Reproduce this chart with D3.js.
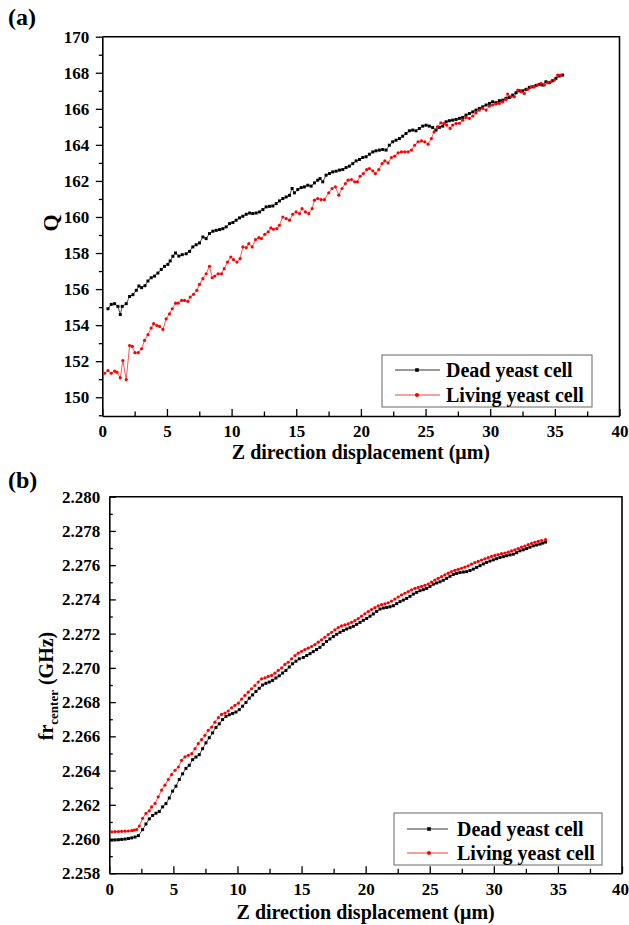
<!DOCTYPE html>
<html><head><meta charset="utf-8">
<script src="https://cdn.jsdelivr.net/npm/d3@7"></script>
<style>
html,body{margin:0;padding:0;background:#fff;}
svg{display:block;}
text{font-family:"Liberation Serif","Times New Roman",serif;font-weight:bold;fill:#000;}
</style></head>
<body><svg id="chart" width="629" height="925"></svg>
<script>
// ---------- data ----------
const seriesNames = ["Dead yeast cell", "Living yeast cell"];
const xTicks = [0,5,10,15,20,25,30,35,40];
const qTicks = [150,152,154,156,158,160,162,164,166,168,170];
const frTicks = [2.258,2.260,2.262,2.264,2.266,2.268,2.270,2.272,2.274,2.276,2.278,2.280];

// Panel (a): Q
const deadQx = [0.44,0.69,0.95,1.21,1.39,1.54,1.85,2.11,2.37,2.63,
 2.83,3.04,3.3,3.53,3.78,4.04,4.3,4.56,4.81,5.07,
 5.25,5.46,5.66,5.92,6.18,6.49,6.75,7.0,7.26,7.52,
 7.78,8.03,8.29,8.55,8.81,9.07,9.32,9.58,9.84,10.1,
 10.35,10.61,10.87,11.13,11.39,11.64,11.9,12.16,12.42,12.67,
 12.93,13.19,13.45,13.7,13.96,14.22,14.48,14.68,14.86,15.12,
 15.38,15.63,15.89,16.15,16.41,16.66,16.84,17.05,17.31,17.57,
 17.82,18.08,18.34,18.6,18.85,19.11,19.37,19.63,19.89,20.14,
 20.4,20.66,20.92,21.17,21.43,21.69,21.95,22.2,22.46,22.72,
 22.98,23.23,23.49,23.75,24.01,24.26,24.52,24.78,25.04,25.29,
 25.55,25.81,26.07,26.33,26.59,26.84,27.1,27.36,27.62,27.87,
 28.13,28.39,28.65,28.9,29.16,29.42,29.68,29.94,30.19,30.45,
 30.71,30.97,31.22,31.48,31.74,32.0,32.25,32.51,32.77,33.03,
 33.28,33.54,33.8,34.06,34.31,34.57,34.83,35.08,35.34,35.6];
const deadQ = [154.91,155.15,155.19,155.04,154.59,155.04,155.19,155.59,155.69,155.93,
 156.17,156.08,156.19,156.45,156.63,156.72,156.89,157.09,157.26,157.37,
 157.56,157.82,158.0,157.83,157.91,157.96,158.09,158.34,158.46,158.56,
 158.89,158.8,159.08,159.21,159.26,159.3,159.35,159.45,159.63,159.69,
 159.82,159.95,160.04,160.15,160.22,160.19,160.22,160.28,160.41,160.56,
 160.59,160.61,160.74,160.89,161.02,161.11,161.2,161.58,161.34,161.52,
 161.63,161.67,161.76,161.71,161.89,162.04,162.13,161.95,162.32,162.41,
 162.5,162.54,162.6,162.63,162.74,162.82,162.96,163.11,163.19,163.3,
 163.34,163.48,163.61,163.67,163.71,163.74,163.71,163.98,164.17,164.26,
 164.35,164.48,164.63,164.78,164.82,164.78,164.91,165.04,165.09,165.04,
 164.96,164.82,164.97,165.04,165.28,165.34,165.37,165.41,165.47,165.52,
 165.65,165.74,165.83,165.93,166.02,166.11,166.21,166.3,166.39,166.34,
 166.45,166.48,166.58,166.63,166.76,166.89,167.0,167.0,167.08,167.19,
 167.22,167.3,167.35,167.32,167.5,167.45,167.56,167.69,167.82,167.87];

const livingQx = [0.18,0.44,0.69,0.95,1.13,1.39,1.59,1.85,2.11,2.32,
 2.52,2.78,3.04,3.27,3.53,3.78,3.97,4.22,4.43,4.69,
 4.94,5.2,5.41,5.67,5.87,6.13,6.36,6.62,6.8,7.06,
 7.31,7.52,7.78,8.03,8.29,8.5,8.7,8.96,9.22,9.43,
 9.68,9.94,10.15,10.41,10.66,10.87,11.13,11.33,11.59,11.85,
 12.11,12.31,12.57,12.83,13.04,13.24,13.5,13.7,13.96,14.22,
 14.48,14.73,14.99,15.25,15.45,15.71,15.97,16.23,16.41,16.66,
 16.92,17.18,17.51,17.77,18.03,18.29,18.54,18.8,19.01,19.27,
 19.52,19.73,19.94,20.19,20.45,20.66,20.92,21.12,21.38,21.64,
 21.85,22.1,22.36,22.62,22.88,23.13,23.39,23.65,23.91,24.16,
 24.42,24.68,24.94,25.2,25.45,25.66,25.92,26.18,26.43,26.64,
 26.9,27.1,27.36,27.62,27.87,28.13,28.39,28.65,28.9,29.16,
 29.42,29.68,29.94,30.19,30.45,30.71,30.97,31.22,31.35,31.61,
 31.87,32.13,32.38,32.64,32.9,33.16,33.41,33.67,33.93,34.19,
 34.44,34.7,34.96,35.22,35.48];
const livingQ = [151.33,151.48,151.33,151.45,151.39,151.08,152.04,150.98,152.87,152.82,
 152.47,152.47,152.69,153.15,153.47,153.84,154.08,153.98,153.93,153.76,
 154.35,154.63,154.91,155.22,155.22,155.37,155.37,155.32,155.56,155.71,
 155.93,156.26,156.58,156.85,157.26,156.63,156.72,156.85,156.85,157.13,
 157.5,157.78,157.63,157.5,157.69,158.34,158.3,158.52,158.34,158.74,
 158.85,158.8,159.04,159.17,159.39,159.32,159.35,159.54,160.0,159.91,
 159.82,160.15,160.28,160.19,160.46,160.28,160.19,160.46,160.93,161.02,
 160.96,160.96,161.34,161.58,161.67,161.21,161.58,161.85,162.04,162.08,
 161.95,161.95,162.26,162.41,162.63,162.69,162.56,162.41,162.63,162.96,
 163.11,163.0,163.3,163.37,163.56,163.61,163.61,163.61,163.71,163.98,
 164.17,164.22,164.17,164.04,164.35,164.72,165.0,165.22,165.19,165.1,
 164.91,165.1,165.19,165.2,165.37,165.52,165.47,165.6,165.78,165.93,
 166.02,165.93,166.15,166.21,166.26,166.3,166.39,166.52,166.82,166.67,
 166.67,167.04,166.95,166.85,167.08,167.22,167.22,167.32,167.41,167.32,
 167.45,167.5,167.6,167.87,167.87];

// Panel (b): resonance centre frequency (GHz)
const deadFx = [0.19,0.45,0.71,0.97,1.23,1.49,1.75,2.01,2.27,2.6,
 2.86,3.12,3.38,3.64,3.9,4.16,4.42,4.68,4.94,5.2,
 5.46,5.72,5.98,6.24,6.5,6.76,7.02,7.28,7.54,7.8,
 8.06,8.32,8.58,8.84,9.1,9.36,9.62,9.88,10.14,10.4,
 10.66,10.92,11.18,11.44,11.7,11.96,12.22,12.48,12.74,13.0,
 13.26,13.52,13.78,14.04,14.3,14.56,14.82,15.14,15.4,15.66,
 15.91,16.17,16.43,16.69,16.95,17.21,17.48,17.74,18.0,18.26,
 18.52,18.78,19.04,19.3,19.56,19.82,20.08,20.34,20.6,20.86,
 21.12,21.38,21.64,21.9,22.16,22.42,22.68,22.94,23.2,23.46,
 23.72,23.98,24.24,24.5,24.76,25.02,25.28,25.54,25.8,26.06,
 26.32,26.58,26.84,27.1,27.36,27.62,27.88,28.14,28.4,28.66,
 28.92,29.18,29.44,29.7,29.96,30.22,30.48,30.74,31.0,31.26,
 31.52,31.78,32.04,32.3,32.56,32.82,33.08,33.34,33.6,33.82,34.04];
const deadF = [2.25994,2.25995,2.25996,2.25998,2.26,2.26003,2.26007,2.26012,2.2602,2.26055,
 2.26088,2.26118,2.26138,2.26151,2.26161,2.26188,2.26207,2.2624,2.2628,2.26309,
 2.26348,2.26381,2.26413,2.26431,2.26464,2.26479,2.26493,2.26528,2.26562,2.26592,
 2.2662,2.26652,2.26673,2.26698,2.26717,2.26726,2.26734,2.26742,2.26756,2.26776,
 2.26798,2.26823,2.26842,2.26862,2.26881,2.269,2.2691,2.26917,2.26927,2.26941,
 2.26954,2.2697,2.26985,2.27005,2.27024,2.27039,2.27053,2.27061,2.27072,2.27083,
 2.27095,2.27107,2.2712,2.27137,2.27154,2.27169,2.27183,2.27196,2.27208,2.27218,
 2.27227,2.27235,2.27243,2.27254,2.27266,2.27278,2.27289,2.27302,2.27315,2.2733,
 2.27344,2.2735,2.27353,2.27357,2.27363,2.27375,2.27387,2.27396,2.27406,2.27418,
 2.27431,2.27441,2.27451,2.27457,2.27464,2.27476,2.27489,2.27496,2.27503,2.27512,
 2.27523,2.27535,2.27546,2.27552,2.27557,2.2756,2.27562,2.27569,2.27577,2.27587,
 2.27597,2.27607,2.27616,2.27624,2.27631,2.27638,2.27645,2.2765,2.27655,2.2766,
 2.27664,2.27673,2.27684,2.2769,2.27697,2.27705,2.27713,2.27718,2.27723,2.27729,2.27735];

const livingFx = [0.19,0.45,0.71,0.97,1.23,1.49,1.75,1.95,2.14,2.34,
 2.6,2.86,3.12,3.3,3.57,3.82,4.08,4.34,4.6,4.86,
 5.13,5.39,5.64,5.9,6.16,6.43,6.69,6.94,7.2,7.46,
 7.72,7.98,8.24,8.51,8.76,9.03,9.28,9.54,9.8,10.07,
 10.32,10.58,10.84,11.1,11.36,11.62,11.88,12.15,12.4,12.66,
 12.92,13.18,13.45,13.7,13.96,14.22,14.49,14.74,15.0,15.26,
 15.52,15.78,16.04,16.3,16.56,16.82,17.08,17.34,17.6,17.86,
 18.12,18.38,18.64,18.9,19.16,19.42,19.68,19.94,20.2,20.46,
 20.72,20.98,21.24,21.5,21.76,22.02,22.28,22.54,22.8,23.06,
 23.32,23.58,23.84,24.1,24.36,24.62,24.88,25.14,25.4,25.66,
 25.92,26.18,26.44,26.7,26.96,27.22,27.48,27.74,28.0,28.26,
 28.52,28.78,29.04,29.3,29.56,29.82,30.08,30.34,30.6,30.86,
 31.12,31.38,31.64,31.9,32.16,32.42,32.68,32.94,33.2,33.46,33.72,34.04];
const livingF = [2.26042,2.26043,2.26044,2.26045,2.26046,2.26047,2.26049,2.26052,2.26056,2.26076,
 2.26121,2.2615,2.26165,2.26188,2.26208,2.26247,2.26286,2.26315,2.26348,2.26377,
 2.26402,2.26421,2.2646,2.2648,2.26489,2.26499,2.26528,2.26558,2.26581,2.26606,
 2.26635,2.26654,2.26683,2.26709,2.26728,2.26736,2.26748,2.26767,2.26781,2.26794,
 2.26818,2.26839,2.26858,2.26878,2.26897,2.26917,2.26936,2.26942,2.2695,2.26956,
 2.26969,2.26985,2.27,2.2702,2.27033,2.27053,2.27072,2.27086,2.27097,2.27107,
 2.27115,2.27125,2.27136,2.2715,2.27164,2.27179,2.27195,2.27208,2.27222,2.27236,
 2.27245,2.27251,2.27257,2.27266,2.27276,2.27288,2.27302,2.27316,2.27329,2.27341,
 2.27352,2.27362,2.27369,2.27374,2.2738,2.2739,2.27402,2.27414,2.27426,2.27436,
 2.27446,2.27456,2.27464,2.2747,2.27476,2.27482,2.2749,2.27501,2.27513,2.27523,
 2.27533,2.27543,2.27553,2.27563,2.2757,2.27576,2.27582,2.27589,2.27596,2.27606,
 2.27615,2.27622,2.2763,2.27637,2.27644,2.27651,2.27657,2.27662,2.27667,2.27671,
 2.27676,2.27683,2.2769,2.27697,2.27705,2.27712,2.2772,2.27727,2.27734,2.27739,2.27744,2.2775];

// ---------- drawing ----------
const svg = d3.select("#chart");
const zipXY = (xs, ys) => d3.range(Math.min(xs.length, ys.length)).map(i => [xs[i], ys[i]]);

function panel(cfg) {
  const x = d3.scaleLinear().domain([0, 40]).range([cfg.left, cfg.right]);
  const y = d3.scaleLinear().domain(cfg.yDomain).range([cfg.bottom, cfg.top]);
  const g = svg.append("g");

  // frame top & right
  g.append("path")
    .attr("d", `M${cfg.left},${cfg.top}H${cfg.right}V${cfg.bottom}`)
    .attr("fill", "none").attr("stroke", "#000").attr("stroke-width", 1.6);

  // minor ticks
  const minorX = d3.range(2.5, 40, 5);
  g.append("g").attr("transform", `translate(0,${cfg.bottom})`)
    .call(d3.axisBottom(x).tickValues(minorX).tickSize(-4.5).tickSizeOuter(0).tickFormat(""))
    .call(s => s.select(".domain").remove());
  g.append("g").attr("transform", `translate(${cfg.left},0)`)
    .call(d3.axisLeft(y).tickValues(cfg.minorY).tickSize(cfg.yOut ? 3.5 : -3.5).tickSizeOuter(0).tickFormat(""))
    .call(s => s.select(".domain").remove());

  // major axes
  const ax = g.append("g").attr("transform", `translate(0,${cfg.bottom})`)
    .call(d3.axisBottom(x).tickValues(xTicks).tickSize(-7).tickSizeOuter(0).tickPadding(cfg.xPad).tickFormat(d3.format("d")));
  const ay = g.append("g").attr("transform", `translate(${cfg.left},0)`)
    .call(d3.axisLeft(y).tickValues(cfg.yTicks).tickSize(cfg.yOut ? 6.5 : -6.5).tickSizeOuter(0).tickPadding(cfg.yPad).tickFormat(cfg.yFmt));
  ax.selectAll(".tick text").filter(d => d === 40).attr("dx", cfg.lastDx);

  g.selectAll(".tick line").attr("stroke", "#000").attr("stroke-width", 1.3);
  g.selectAll(".domain").attr("stroke", "#000").attr("stroke-width", 1.6);
  g.selectAll(".tick text").attr("font-size", 17).attr("font-family", "Liberation Serif, Times New Roman, serif").attr("font-weight", "bold").attr("fill", "#000");

  // series
  const line = d3.line().x(d => x(d[0])).y(d => y(d[1]));
  const dead = zipXY(cfg.deadX, cfg.deadY);
  const living = zipXY(cfg.livX, cfg.livY);

  g.append("path").datum(dead).attr("d", line).attr("fill", "none").attr("stroke", "#222").attr("stroke-width", 0.8);
  g.append("path").datum(living).attr("d", line).attr("fill", "none").attr("stroke", "#f03030").attr("stroke-width", 0.8);
  g.append("g").selectAll("rect").data(dead).join("rect")
    .attr("x", d => x(d[0]) - 1.5).attr("y", d => y(d[1]) - 1.5)
    .attr("width", 3).attr("height", 3).attr("fill", "#000");
  g.append("g").selectAll("circle").data(living).join("circle")
    .attr("cx", d => x(d[0])).attr("cy", d => y(d[1])).attr("r", 1.6).attr("fill", "#ff0000");

  // legend
  const L = cfg.legend;
  g.append("rect").attr("x", L.x).attr("y", L.y).attr("width", L.w).attr("height", L.h)
    .attr("fill", "#fff").attr("stroke", "#666").attr("stroke-width", 1);
  seriesNames.forEach((name, i) => {
    const ly = L.y + L.rowY[i];
    g.append("line").attr("x1", L.lx1).attr("x2", L.lx2).attr("y1", ly).attr("y2", ly)
      .attr("stroke", i === 0 ? "#333" : "#f04040").attr("stroke-width", 1);
    if (i === 0) {
      g.append("rect").attr("x", L.mx - 1.8).attr("y", ly - 1.8).attr("width", 3.6).attr("height", 3.6).attr("fill", "#000");
    } else {
      g.append("circle").attr("cx", L.mx).attr("cy", ly).attr("r", 2.1).attr("fill", "#ff0000");
    }
    g.append("text").attr("x", L.tx).attr("y", ly + 7).attr("font-size", 20).text(name);
  });

  // x title
  g.append("text").attr("x", (cfg.left + cfg.right) / 2).attr("y", cfg.xTitleY)
    .attr("text-anchor", "middle").attr("font-size", 20).text("Z direction displacement (μm)");

  // panel label
  g.append("text").attr("x", 8).attr("y", cfg.labelY).attr("font-size", 24).text(cfg.label);
  return {x, y, g};
}

// Panel (a)
const pa = panel({
  left: 102.3, right: 619.5, top: 36.7, bottom: 416,
  yDomain: [148.96, 170], yTicks: qTicks, minorY: d3.range(149, 170, 2),
  yOut: true, yPad: 6.5, xPad: 9, yFmt: d3.format("d"), lastDx: 0,
  deadX: deadQx, deadY: deadQ, livX: livingQx, livY: livingQ,
  legend: {x: 382, y: 355, w: 210, h: 52, rowY: [15, 40], lx1: 395, lx2: 440, mx: 417, tx: 446},
  xTitleY: 459, label: "(a)", labelY: 25
});
pa.g.append("text").attr("transform", "translate(58,223) rotate(-90)")
  .attr("text-anchor", "middle").attr("font-size", 22).text("Q");

// Panel (b)
const pb = panel({
  left: 109.3, right: 622, top: 496.7, bottom: 873.3,
  yDomain: [2.258, 2.280], yTicks: frTicks, minorY: d3.range(2.259, 2.2795, 0.002),
  yOut: false, yPad: 9, xPad: 10, yFmt: d3.format(".3f"), lastDx: -2,
  deadX: deadFx, deadY: deadF, livX: livingFx, livY: livingF,
  legend: {x: 394, y: 813, w: 208, h: 52, rowY: [16, 40], lx1: 407, lx2: 448, mx: 429, tx: 457},
  xTitleY: 919, label: "(b)", labelY: 488
});
const fr = pb.g.append("text").attr("transform", "translate(53,686) rotate(-90)")
  .attr("text-anchor", "middle").attr("font-size", 20);
fr.append("tspan").text("fr");
fr.append("tspan").attr("font-size", 13).attr("dy", 5).text("center");
fr.append("tspan").attr("dy", -5).text(" (GHz)");
</script></body></html>
